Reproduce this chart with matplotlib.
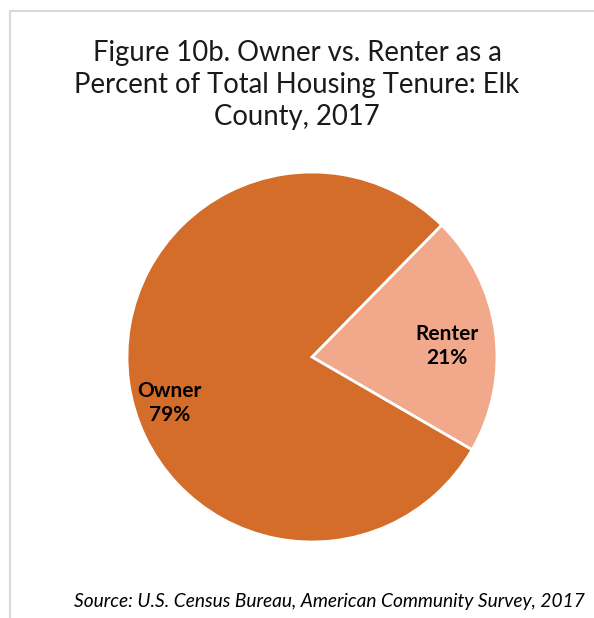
import numpy as np
import matplotlib
matplotlib.use('Agg')
import matplotlib.pyplot as plt
from matplotlib.patches import Rectangle

# Data
categories = ['Renter', 'Owner']
shares = [21, 79]
colors = ['#F2A88A', '#D36D29']

title = 'Figure 10b. Owner vs. Renter as a\nPercent of Total Housing Tenure: Elk\nCounty, 2017'
source = 'Source: U.S. Census Bureau, American Community Survey, 2017'

plt.rcParams['font.family'] = ['Lato', 'DejaVu Sans']

W, H = 594, 618
fig = plt.figure(figsize=(W / 100, H / 100), dpi=100)

# light frame, only left and top visible
fig.patches.append(Rectangle((10 / W, -0.1), 1.2, 1 - 11 / H + 0.1, transform=fig.transFigure,
                             fill=False, edgecolor='#D9D9D9', linewidth=1.5))

cx, cy, r = 312, 357, 185
ax = fig.add_axes([(cx - r) / W, 1 - (cy + r) / H, 2 * r / W, 2 * r / H])
wedges, _ = ax.pie(shares, colors=colors, startangle=45.5, counterclock=False,
                   radius=1, wedgeprops=dict(edgecolor='white', linewidth=2))
ax.set_xlim(-1, 1)
ax.set_ylim(-1, 1)
ax.set_aspect('equal')
ax.axis('off')

# data labels
label_pos = {'Renter': (0.73, 0.06), 'Owner': (-0.77, -0.25)}
for cat, val in zip(categories, shares):
    x, y = label_pos[cat]
    ax.text(x, y, f'{cat}\n{val}%', ha='center', va='center', fontsize=15,
            fontweight='bold', color='black', linespacing=1.25)

fig.text(0.5, 1 - 85 / H, title, ha='center', va='center', fontsize=19.8,
         color='#1a1a1a', linespacing=1.3)
fig.text(585 / W, 1 - 602 / H, source, ha='right', va='center', fontsize=13.8,
         style='italic', color='black')

fig.savefig('out.png', dpi=100)
